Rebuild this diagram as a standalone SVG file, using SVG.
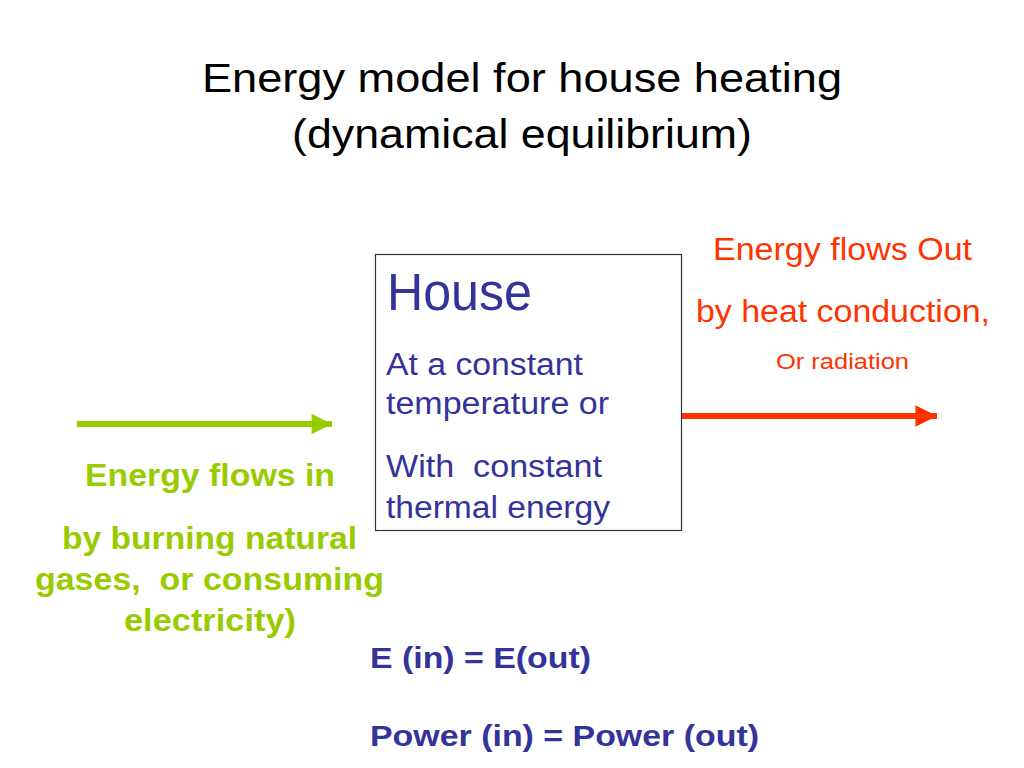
<svg xmlns="http://www.w3.org/2000/svg" width="1024" height="768" viewBox="0 0 1024 768">
<defs>
<style>
text{font-family:"Liberation Sans",Arial,sans-serif}
.title{font-size:41px;fill:#000;text-anchor:middle}
.house{fill:#333399}
.out{fill:#ff3300;text-anchor:middle}
.in{fill:#99cc00;font-weight:bold;text-anchor:middle;font-size:31px}
.eq{fill:#333399;font-weight:bold;font-size:30px}
</style>
<marker id="gh" viewBox="0 0 10 10" refX="10" refY="5" markerWidth="3.6" markerHeight="3.4" orient="auto" markerUnits="strokeWidth"><path d="M0,0 L10,5 L0,10 z" fill="#99cc00"/></marker>
<marker id="rh" viewBox="0 0 10 10" refX="10" refY="5" markerWidth="3.6" markerHeight="3.6" orient="auto" markerUnits="strokeWidth"><path d="M0,0 L10,5 L0,10 z" fill="#ff3300"/></marker>
</defs>
<rect width="1024" height="768" fill="#fff"/>
<g id="title">
<text class="title" x="522" y="92" textLength="640" lengthAdjust="spacingAndGlyphs">Energy model for house heating</text>
<text class="title" x="522" y="148" textLength="460" lengthAdjust="spacingAndGlyphs">(dynamical equilibrium)</text>
</g>
<g id="house">
<rect x="375.5" y="254.5" width="306" height="276" fill="#fff" stroke="#333" stroke-width="1.2"/>
<text class="house" x="387" y="310" font-size="51" textLength="145" lengthAdjust="spacingAndGlyphs">House</text>
<text class="house" x="386" y="375" font-size="31" textLength="197" lengthAdjust="spacingAndGlyphs">At a constant</text>
<text class="house" x="386" y="414" font-size="31" textLength="223" lengthAdjust="spacingAndGlyphs">temperature or</text>
<text class="house" x="386" y="477" font-size="31" xml:space="preserve" textLength="216" lengthAdjust="spacingAndGlyphs">With  constant</text>
<text class="house" x="386" y="518" font-size="31" textLength="224" lengthAdjust="spacingAndGlyphs">thermal energy</text>
</g>
<g id="connectors">
<line x1="77" y1="424" x2="332" y2="424" stroke="#99cc00" stroke-width="6" marker-end="url(#gh)"/>
<line x1="682" y1="416" x2="937" y2="416" stroke="#ff3300" stroke-width="6" marker-end="url(#rh)"/>
</g>
<g id="out-label">
<text class="out" x="842.5" y="260" font-size="31" textLength="259" lengthAdjust="spacingAndGlyphs">Energy flows Out</text>
<text class="out" x="843" y="322" font-size="31" textLength="294" lengthAdjust="spacingAndGlyphs">by heat conduction,</text>
<text class="out" x="842.5" y="369" font-size="22" textLength="133" lengthAdjust="spacingAndGlyphs">Or radiation</text>
</g>
<g id="in-label">
<text class="in" x="210" y="486" textLength="250" lengthAdjust="spacingAndGlyphs">Energy flows in</text>
<text class="in" x="209.5" y="549" textLength="295" lengthAdjust="spacingAndGlyphs">by burning natural</text>
<text class="in" x="209.5" y="590" xml:space="preserve" textLength="349" lengthAdjust="spacingAndGlyphs">gases,  or consuming</text>
<text class="in" x="210" y="631" textLength="172" lengthAdjust="spacingAndGlyphs">electricity)</text>
</g>
<g id="equations">
<text class="eq" x="370" y="668" textLength="221" lengthAdjust="spacingAndGlyphs">E (in) = E(out)</text>
<text class="eq" x="370" y="746" textLength="389" lengthAdjust="spacingAndGlyphs">Power (in) = Power (out)</text>
</g>
</svg>
